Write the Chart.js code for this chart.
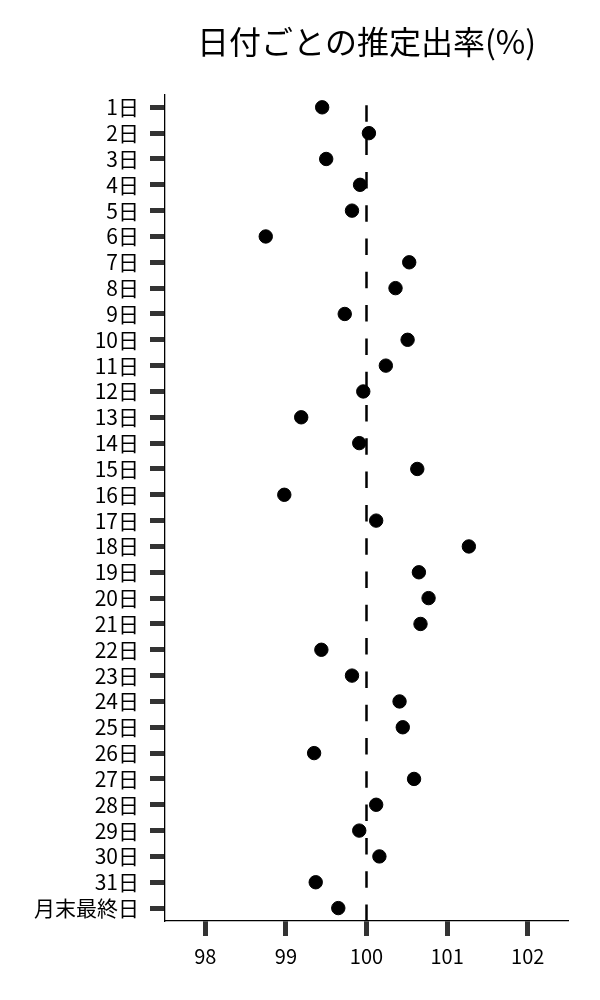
<!DOCTYPE html>
<html>
<head>
<meta charset="utf-8">
<script src="https://cdn.jsdelivr.net/npm/chart.js@4"></script>
<style>
  html, body { margin: 0; padding: 0; background: #fff; }
  #wrap { width: 600px; height: 1000px; }
</style>
</head>
<body>
<div id="wrap"><canvas id="rateChart"></canvas></div>
<script>
const dayLabels = ['1日','2日','3日','4日','5日','6日','7日','8日','9日','10日',
  '11日','12日','13日','14日','15日','16日','17日','18日','19日','20日',
  '21日','22日','23日','24日','25日','26日','27日','28日','29日','30日',
  '31日','月末最終日'];
const rateValues = [99.45, 100.03, 99.50, 99.92, 99.82, 98.75, 100.53, 100.36, 99.73, 100.51,
  100.24, 99.96, 99.19, 99.91, 100.63, 98.98, 100.12, 101.27, 100.65, 100.77,
  100.67, 99.44, 99.82, 100.41, 100.45, 99.35, 100.59, 100.12, 99.91, 100.16,
  99.37, 99.65];
const xTicks = [98, 99, 100, 101, 102];
const refValue = 100;

const font = "'Noto Sans CJK JP', 'Noto Sans', sans-serif";
const points = rateValues.map((v, i) => ({ x: v, y: i }));
const refLine = [{ x: refValue, y: dayLabels.length - 0.5 }, { x: refValue, y: -0.5 }];

const ctx = document.getElementById('rateChart');
new Chart(ctx, {
  type: 'scatter',
  data: {
    datasets: [{
      label: '推定出率',
      data: points,
      backgroundColor: '#000',
      borderColor: '#000',
      pointRadius: 6.7,
      pointHoverRadius: 6.7
    }, {
      type: 'line',
      label: '100%',
      data: refLine,
      borderColor: '#000',
      borderWidth: 2.5,
      borderDash: [16.5, 16.8],
      pointRadius: 0,
      fill: false
    }]
  },
  options: {
    responsive: true,
    maintainAspectRatio: false,
    animation: false,
    layout: { padding: { left: 23, right: 32, bottom: 24, top: 0 } },
    plugins: {
      legend: { display: false },
      tooltip: { enabled: false },
      title: {
        display: true,
        text: '日付ごとの推定出率(%)',
        fullSize: false,
        color: '#000',
        font: { family: font, size: 32, weight: 'normal', lineHeight: 1.2 },
        padding: { top: 23, bottom: 33 }
      }
    },
    scales: {
      x: {
        type: 'linear',
        min: 97.5,
        max: 102.5,
        afterBuildTicks: (axis) => { axis.ticks = xTicks.map(v => ({ value: v })); },
        border: { color: '#000', width: 1.3 },
        grid: { drawOnChartArea: false, drawTicks: true, tickLength: 15, tickColor: '#333', tickWidth: 5 },
        ticks: { color: '#000', padding: 8, font: { family: font, size: 20 } }
      },
      y: {
        type: 'linear',
        reverse: true,
        min: -0.5,
        max: dayLabels.length - 0.5,
        afterBuildTicks: (axis) => { axis.ticks = dayLabels.map((l, i) => ({ value: i })); },
        border: { color: '#000', width: 1.3 },
        grid: { drawOnChartArea: false, drawTicks: true, tickLength: 15, tickColor: '#333', tickWidth: 5 },
        ticks: {
          color: '#000',
          padding: 11,
          autoSkip: false,
          font: { family: font, size: 21 },
          callback: (value) => dayLabels[value]
        }
      }
    }
  }
});
</script>
</body>
</html>
